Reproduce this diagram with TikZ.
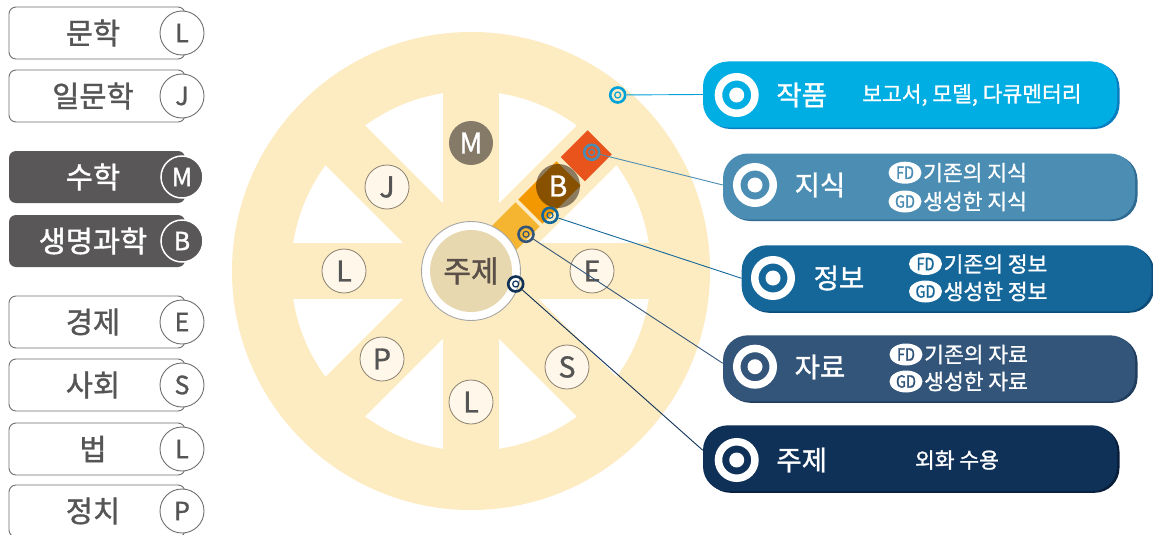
\documentclass[tikz,border=0pt]{standalone}
\usepackage{fontspec}
\setmainfont{Noto Sans CJK KR}[FakeBold=1.2]
\usetikzlibrary{shapes.geometric}
\definecolor{wbeige}{HTML}{FDEBC1}
\definecolor{hubfill}{HTML}{E8D8B0}
\definecolor{hubtext}{HTML}{5A5048}
\definecolor{lcfill}{HTML}{FFF8EA}
\definecolor{lcdraw}{HTML}{8A8070}
\definecolor{ltext}{HTML}{555555}
\definecolor{mfill}{HTML}{857A67}
\definecolor{syel}{HTML}{F5B531}
\definecolor{sora}{HTML}{F39800}
\definecolor{sred}{HTML}{E8541C}
\definecolor{bbrown}{HTML}{1E0C00}
\definecolor{cA}{HTML}{00AEE3}
\definecolor{cAd}{HTML}{0A7CC0}
\definecolor{cAl}{HTML}{00A0D8}
\definecolor{cB}{HTML}{4B8DB3}
\definecolor{cBd}{HTML}{2F6A93}
\definecolor{cC}{HTML}{15679A}
\definecolor{cCd}{HTML}{0C4C78}
\definecolor{cD}{HTML}{34557A}
\definecolor{cDd}{HTML}{213D5E}
\definecolor{cE}{HTML}{0F3158}
\definecolor{cEd}{HTML}{081E3A}
\definecolor{ldark}{HTML}{595757}
\definecolor{lgray}{HTML}{707070}
\tikzset{
  lbox-l/.style={draw=lgray, line width=0.9pt, fill=white, rounded corners=7pt, minimum width=176pt, minimum height=52pt, inner sep=0pt},
  lbox-d/.style={fill=ldark, rounded corners=7pt, minimum width=176pt, minimum height=52pt, inner sep=0pt},
  ltxt-l/.style={text=ltext, font=\fontsize{29.5}{32}\selectfont, inner sep=0pt},
  ltxt-d/.style={text=white, font=\fontsize{29.5}{32}\selectfont, inner sep=0pt},
  lcir-l/.style={circle, draw=lgray, line width=0.9pt, fill=white, minimum size=44pt, inner sep=0pt, text=ltext, font=\fontsize{25}{27}\selectfont},
  lcir-d/.style={circle, draw=white, line width=1.5pt, fill=ldark, minimum size=42pt, inner sep=0pt, text=white, font=\fontsize{25}{27}\selectfont},
  wlet/.style={circle, draw=lcdraw, line width=0.8pt, fill=lcfill, minimum size=44pt, inner sep=0pt, text=ltext, font=\fontsize{28.5}{30}\selectfont},
  tgt/.style={circle, draw=#1, line width=2.6pt, minimum size=15pt, inner sep=0pt},
  conn/.style={draw=#1, line width=0.9pt},
  rbox/.style={rounded corners=25pt, minimum height=66pt, inner sep=0pt},
  icon/.style={circle, draw=white, line width=7.5pt, fill=#1, minimum size=36.5pt, inner sep=0pt},
  idot/.style={circle, fill=white, minimum size=15pt, inner sep=0pt},
  ttl/.style={text=white, font=\fontsize{27.5}{30}\selectfont, inner sep=0pt},
  sub/.style={text=white, font=\fontsize{21.5}{24}\selectfont, inner sep=0pt},
  badge/.style={ellipse, fill=white, minimum width=33pt, minimum height=22pt, inner sep=0pt, font=\fontsize{17}{18}\selectfont},
}
\begin{document}
\begin{tikzpicture}[x=1pt,y=-1pt]
\useasboundingbox (0,0) rectangle (1153,535);
\fill[white] (0,0) rectangle (1153,535);

% ---------- left labels ----------
\foreach \yy/\tt/\cc/\kk [count=\i] in {33/문학/L/l, 96/일문학/J/l, 177/수학/M/d, 241/생명과학/B/d, 322/경제/E/l, 385/사회/S/l, 449/법/L/l, 511/정치/P/l}{
  \node[lbox-\kk] (lb\i) at (97,\yy) {};
  \node[ltxt-\kk] (lt\i) at (93,\yy) {\tt};
  \node[lcir-\kk] (lc\i) at (182,\yy) {\cc};
}

% ---------- wheel ----------
\coordinate (hc) at (471,271);
\fill[wbeige, even odd rule] (hc) circle (239pt) (hc) circle (180pt);
\begin{scope}[shift={(hc)}]
  \foreach \a in {0,45,90,135}{
    \fill[wbeige, rotate=\a] (-200,-28) rectangle (200,28);
  }
\end{scope}
\begin{scope}[shift={(hc)}, rotate=45]
  \fill[syel] (44,-17) rectangle (80,17);
  \fill[sora] (84,-17) rectangle (138,17);
  \fill[sred] (144,-17) rectangle (182,17);
\end{scope}

\node[wlet, fill=mfill, draw=none, text=white] (wM) at (471,143) {M};
\node[wlet] (wJ) at (387,187) {J};
\node[wlet] (wL1) at (344,271) {L};
\node[wlet] (wE) at (592,271) {E};
\node[wlet] (wP) at (382,359) {P};
\node[wlet] (wL2) at (471,402) {L};
\node[wlet] (wS) at (567,367) {S};

% hub
\node[circle, draw=gray!70, line width=0.9pt, fill=white, minimum size=99pt, inner sep=0pt] (hub) at (hc) {};
\node[circle, fill=hubfill, minimum size=82pt, inner sep=0pt, text=hubtext, font=\fontsize{30}{32}\selectfont] (hubin) at (hc) {주제};

\node[wlet, draw=none, fill=bbrown, fill opacity=0.5, text opacity=1, text=white] (wB) at (558,186) {B};

% ---------- targets on wheel ----------
\node[tgt=cAl] (t1) at (617.7,95) {};
\node[tgt=cB] (t2) at (591.7,152.3) {};
\node[tgt=cC] (t3) at (550,215.3) {};
\node[tgt=cD] (t4) at (526,234.3) {};
\node[tgt=cE] (t5) at (515.7,284) {};
\foreach \k/\c in {1/cAl,2/cB,3/cC,4/cD,5/cE}{
  \draw[\c, line width=1.2pt] (t\k.center) circle (3pt);
}

% ---------- right boxes (positions) ----------
\coordinate (p1) at (910,94.5);
\coordinate (p2) at (929,186.5);
\coordinate (p3) at (946.7,278.3);
\coordinate (p4) at (929,368.3);
\coordinate (p5) at (910,458.3);

% connectors (drawn under the boxes)
\node[rbox, minimum width=414pt] (b1) at (p1) {};
\node[rbox, minimum width=412pt] (b2) at (p2) {};
\node[rbox, minimum width=410pt] (b3) at (p3) {};
\node[rbox, minimum width=412pt] (b4) at (p4) {};
\node[rbox, minimum width=414pt] (b5) at (p5) {};
\draw[conn=cAl] (t1) -- (b1.west);
\draw[conn=cB] (t2) -- ([yshift=1.5pt]b2.west);
\draw[conn=cC] (t3) -- (b3.west);
\draw[conn=cD] (t4) -- ([yshift=5pt]b4.west);
\draw[conn=cE] (t5) -- ([yshift=8pt]b5.west);

% shadows + boxes
\node[rbox, minimum width=414pt, fill=cAd] (b1s) at ([xshift=2.5pt,yshift=-1.5pt]p1) {};
\node[rbox, minimum width=414pt, fill=cA] (b1f) at (p1) {};
\node[rbox, minimum width=412pt, fill=cBd] (b2s) at ([xshift=2.5pt,yshift=-1.5pt]p2) {};
\node[rbox, minimum width=412pt, fill=cB] (b2f) at (p2) {};
\node[rbox, minimum width=410pt, fill=cCd] (b3s) at ([xshift=2.5pt,yshift=-1.5pt]p3) {};
\node[rbox, minimum width=410pt, fill=cC] (b3f) at (p3) {};
\node[rbox, minimum width=412pt, fill=cDd] (b4s) at ([xshift=2.5pt,yshift=-1.5pt]p4) {};
\node[rbox, minimum width=412pt, fill=cD] (b4f) at (p4) {};
\node[rbox, minimum width=414pt, fill=cEd] (b5s) at ([xshift=2.5pt,yshift=-1.5pt]p5) {};
\node[rbox, minimum width=414pt, fill=cE] (b5f) at (p5) {};

% icons
\node[icon=cA] (i1) at (736.7,95) {};
\node[idot] (d1) at (i1) {};
\node[icon=cB] (i2) at (755,185) {};
\node[idot] (d2) at (i2) {};
\node[icon=cC] (i3) at (773,278) {};
\node[idot] (d3) at (i3) {};
\node[icon=cD] (i4) at (755,366.7) {};
\node[idot] (d4) at (i4) {};
\node[icon=cE] (i5) at (736.7,460) {};
\node[idot] (d5) at (i5) {};

% titles
\node[ttl] (n1) at (801.7,95) {작품};
\node[ttl] (n2) at (820,185) {지식};
\node[ttl] (n3) at (839,278) {정보};
\node[ttl] (n4) at (820,367) {자료};
\node[ttl] (n5) at (801.7,460) {주제};

% sub texts
\node[sub, anchor=west] (s1) at (862,95) {보고서, 모델, 다큐멘터리};

\node[badge, text=cB] (f2) at (905,172.7) {\scalebox{0.85}[1]{FD}};
\node[sub, anchor=west] (f2t) at (923,172.7) {기존의 지식};
\node[badge, text=cB] (g2) at (905,201.5) {\scalebox{0.85}[1]{GD}};
\node[sub, anchor=west] (g2t) at (923,201.5) {생성한 지식};

\node[badge, text=cC] (f3) at (925.5,264) {\scalebox{0.85}[1]{FD}};
\node[sub, anchor=west] (f3t) at (943.5,264) {기존의 정보};
\node[badge, text=cC] (g3) at (925.5,291.5) {\scalebox{0.85}[1]{GD}};
\node[sub, anchor=west] (g3t) at (943.5,291.5) {생성한 정보};

\node[badge, text=cD] (f4) at (906,354.5) {\scalebox{0.85}[1]{FD}};
\node[sub, anchor=west] (f4t) at (924,354.5) {기존의 자료};
\node[badge, text=cD] (g4) at (906,381.5) {\scalebox{0.85}[1]{GD}};
\node[sub, anchor=west] (g4t) at (924,381.5) {생성한 자료};

\node[sub] (s5) at (957,460) {외화 수용};
\end{tikzpicture}
\end{document}
